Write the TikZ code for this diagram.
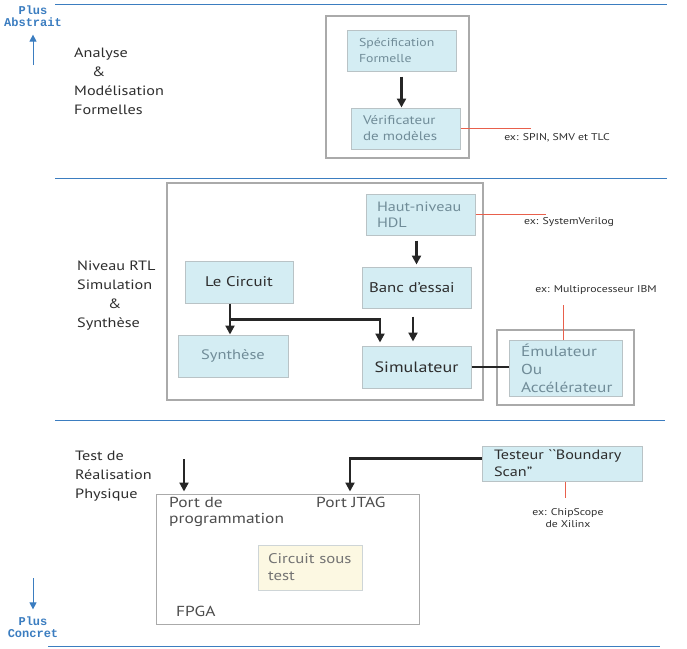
\documentclass[tikz,border=0pt]{standalone}
\usepackage{fontspec}
\setmainfont{PT Sans}[FakeStretch=1.2]
\newfontfamily\monofont{Liberation Mono}
\usetikzlibrary{arrows.meta}
\definecolor{bleuligne}{RGB}{59,125,192}
\definecolor{grisboite}{RGB}{170,170,170}
\definecolor{grisbord}{RGB}{185,195,198}
\definecolor{cyanclair}{RGB}{212,237,243}
\definecolor{jauneclair}{RGB}{252,248,226}
\definecolor{texteclair}{RGB}{112,140,152}
\definecolor{textefonce}{RGB}{45,45,45}
\definecolor{rouge}{RGB}{232,96,76}
\begin{document}
\begin{tikzpicture}[x=1pt,y=-1pt]
\tikzset{boite/.style={draw=grisbord, fill=cyanclair, line width=1pt, inner xsep=12pt, inner ysep=0pt, align=left, text=texteclair, font=\fontsize{14}{16}\selectfont},
  cadre/.style={draw=grisboite, line width=2.5pt},
  fleche/.style={draw=black!85, line width=2.2pt, -{Triangle[length=9pt,width=9pt]}},
  trait/.style={draw=rouge, line width=0.8pt},
  niveau/.style={draw=bleuligne, line width=1pt},
  note/.style={font=\fontsize{9.8}{12}\selectfont, text=textefonce, align=center, inner sep=0pt},
  titre/.style={font=\fontsize{13.5}{19}\selectfont, text=textefonce, align=left, inner sep=0pt, anchor=north west},
  fpgatexte/.style={font=\fontsize{14.5}{16}\selectfont, text=textefonce!85, align=left, inner sep=0pt},
  sens/.style={font=\monofont\bfseries\fontsize{12}{12}\selectfont, text=bleuligne, align=center, inner sep=0pt}}
\useasboundingbox (0,0) rectangle (687,648);
% niveaux
\draw[niveau] (55,4) -- (667,4);
\draw[niveau] (55,178) -- (667,178);
\draw[niveau] (55,420) -- (665,420);
\draw[niveau] (48,646) -- (660,646);
\node[sens] (abstrait) at (33,16) {Plus\\Abstrait};
\node[sens] (concret) at (33,627) {Plus\\Concret};
\coordinate (haut) at (33,65);
\coordinate (bas) at (33,578);
\draw[bleuligne, line width=1pt, -{Triangle[length=7pt,width=7pt]}, shorten >=8pt] (haut) -- (abstrait.south);
\draw[bleuligne, line width=1pt, -{Triangle[length=7pt,width=7pt]}, shorten >=7pt] (bas) -- (concret.north);
% analyse formelle
\node[titre] (analyse) at (74,48) {Analyse\\\hspace{18pt}\&\\Modélisation\\Formelles};
\draw[cadre] (326,16) rectangle (469,158);
\node[boite, minimum width=109pt, minimum height=41pt, text width=85pt, font=\fontsize{11.5}{16}\selectfont] (spec) at (401.5,50.5) {Spécification\\Formelle};
\node[boite, minimum width=109pt, minimum height=41pt, text width=85pt, font=\fontsize{12.5}{16}\selectfont] (verif) at (405.5,128.5) {Vérificateur\\de modèles};
\draw[fleche, shorten <=5pt] (spec.south) -- (spec.south |- verif.north);
\coordinate (ex1) at ([xshift=70pt]verif.east);
\draw[trait] (verif.east) -- (ex1);
\node[note] (spin) at (557,138) {ex: SPIN, SMV et TLC};
% niveau RTL
\node[titre] (rtl) at (77,261) {Niveau RTL\\Simulation\\\hspace{31pt}\&\\Synthèse};
\draw[cadre] (167,183) rectangle (483,400);
\node[boite, minimum width=109pt, minimum height=41pt, text width=97pt, inner xsep=6pt, font=\fontsize{13.5}{16}\selectfont] (hdl) at (420.5,214.5) {\hspace{5pt}Haut-niveau\\\hspace{5pt}HDL};
\node[boite, minimum width=108pt, minimum height=42pt, text width=84pt, align=center, text=textefonce] (circuit) at (239,282) {Le Circuit};
\node[boite, minimum width=109pt, minimum height=41pt, text width=95pt, inner xsep=7pt, text=textefonce] (banc) at (416.5,287.5) {Banc d’essai};
\node[boite, minimum width=110pt, minimum height=42pt, text width=86pt, align=center, font=\fontsize{13.7}{16}\selectfont] (synth) at (233,356) {Synthèse};
\node[boite, minimum width=109pt, minimum height=42pt, text width=85pt, align=center, text=textefonce, font=\fontsize{15}{16}\selectfont] (simul) at (416.5,367) {Simulateur};
\draw[fleche, shorten <=5pt, shorten >=2pt] (banc.north |- hdl.south) -- (banc.north);
\draw[fleche, shorten <=8pt, shorten >=4pt] ([xshift=-3.5pt]banc.south) -- ([xshift=-3.5pt]simul.north);
\draw[fleche] ([xshift=-9pt]circuit.south) -- ([xshift=-9pt]circuit.south |- synth.north);
\draw[fleche, shorten >=3pt] ([xshift=-9pt]circuit.south) ++(0,16) -| ([xshift=-36.5pt]simul.north);
\coordinate (ex2) at ([xshift=70pt]hdl.east);
\draw[trait] (hdl.east) -- (ex2);
\node[note] (sv) at (569,222) {ex: SystemVerilog};
\draw[cadre] (497,330) rectangle (634,405);
\node[boite, minimum width=113pt, minimum height=56pt, text width=89pt, font=\fontsize{14.4}{18}\selectfont] (emul) at (565.5,368) {Émulateur\\Ou\\Accélérateur};
\draw[draw=black!85, line width=2.2pt] (simul.east) -- (simul.east -| emul.west);
\coordinate (ex3) at (563,305);
\draw[trait] ([xshift=-2.5pt]emul.north) -- (ex3);
\node[note] (ibm) at (596,290) {ex: Multiprocesseur IBM};
% realisation physique
\node[titre] (test) at (75,451) {Test de\\Réalisation\\Physique};
\node[draw=grisboite, line width=1pt, minimum width=263pt, minimum height=130pt, inner sep=0pt] (fpga) at (287.5,559) {};
\node[fpgatexte, anchor=north west] (portprog) at (169,497) {Port de\\programmation};
\node[fpgatexte, anchor=north west] (portjtag) at (316,497) {Port JTAG};
\node[fpgatexte, anchor=west] (nomfpga) at (176,611) {FPGA};
\node[boite, draw=grisbord!70, fill=jauneclair, minimum width=104pt, minimum height=45pt, text width=84pt, inner xsep=10pt, text=black!55, font=\fontsize{14}{17}\selectfont] (cst) at (310,567.5) {Circuit sous\\test};
\node[boite, minimum width=160pt, minimum height=35pt, text width=136pt, text=textefonce, font=\fontsize{13.5}{17}\selectfont] (testeur) at (562,463.5) {Testeur \textasciigrave\textasciigrave Boundary\\Scan”};
\coordinate (prog) at (184,459);
\draw[fleche, shorten >=2pt] (prog) -- (prog |- fpga.north);
\draw[fleche, shorten >=2pt] ([yshift=5pt]testeur.west) -| ([xshift=62.5pt]fpga.north);
\coordinate (ex4) at (565,498);
\draw[trait] ([xshift=3pt]testeur.south) -- (ex4);
\node[note] (chip) at (568,518) {ex: ChipScope\\de Xilinx};
\end{tikzpicture}
\end{document}
